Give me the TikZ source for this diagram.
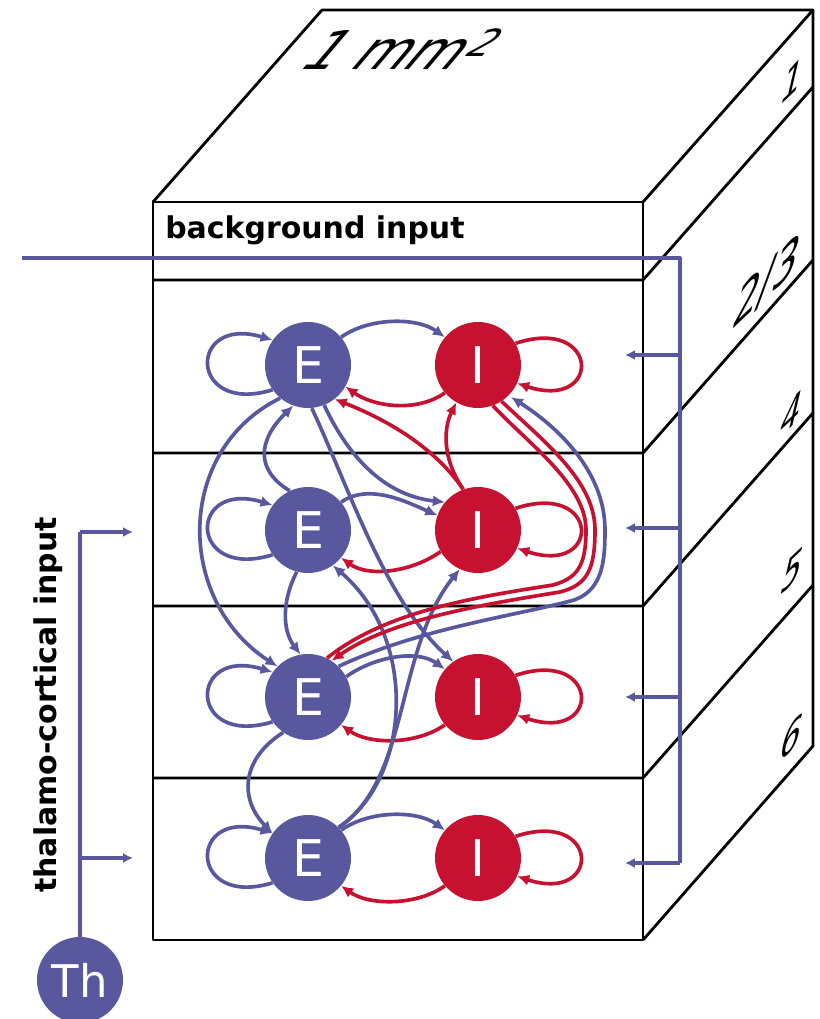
\documentclass[tikz,border=0pt]{standalone}
\usepackage{fontspec}
\setmainfont{DejaVu Sans}
\usetikzlibrary{arrows.meta}
\definecolor{eblue}{RGB}{89,87,158}
\definecolor{ired}{RGB}{199,17,48}
\begin{document}
\begin{tikzpicture}[x=0.025cm,y=-0.025cm,line join=round,
  ecirc/.style={circle,fill=eblue,minimum size=2.15cm,inner sep=0pt,text=white,font=\fontsize{36}{36}\selectfont},
  icirc/.style={circle,fill=ired,minimum size=2.15cm,inner sep=0pt,text=white,font=\fontsize{36}{36}\selectfont},
  bl/.style={draw=eblue,line width=2.6pt},
  rd/.style={draw=ired,line width=2.6pt},
  tip/.style={-{Latex[length=8.5pt,width=8pt]}},
  tiptwo/.style={-{Latex[length=7pt,width=7pt]}},
  inp/.style={draw=eblue,line width=2.8pt},
  boxline/.style={draw=black,line width=2pt},
  sidelab/.style={inner sep=0pt,yslant=0.95,xslant=0.3,xscale=0.85,font=\fontsize{27}{27}\selectfont},
  lab/.style={inner sep=0pt,font=\bfseries\fontsize{21.3}{22}\selectfont}]
\useasboundingbox (0,0) rectangle (820,1019);
% box
\draw[boxline] (153,202) -- (322,10) -- (813,10) -- (643,202);
\draw[boxline] (153,202) rectangle (643,940);
\draw[boxline] (813,10) -- (813,746) -- (643,940);
\foreach \yy in {280,453,606,778}{
  \draw[boxline] (153,\yy) -- (643,\yy) -- (813,{\yy-193});
}
% labels on box
\node[anchor=base west,xslant=0.85,inner sep=0pt,font=\fontsize{38}{38}\selectfont] (mm) at (296,69) {1 mm\textsuperscript{2}};
\node[sidelab] (l1) at (793,80) {1};
\node[sidelab,font=\fontsize{33}{33}\selectfont] (l23) at (767,282) {2/3};
\node[sidelab] (l4) at (792,413) {4};
\node[sidelab] (l5) at (793,570) {5};
\node[sidelab] (l6) at (792,737) {6};
\node[lab,anchor=base west] (bgt) at (165,238) {background input};
\node[lab,rotate=90] (tct) at (48,705) {thalamo-cortical input};
% neurons
\node[ecirc] (E1) at (308,365) {E};
\node[icirc] (I1) at (478,365) {I};
\node[ecirc] (E2) at (308,530) {E};
\node[icirc] (I2) at (478,530) {I};
\node[ecirc] (E3) at (308,697) {E};
\node[icirc] (I3) at (478,697) {I};
\node[ecirc] (E4) at (308,858) {E};
\node[icirc] (I4) at (478,858) {I};
\node[ecirc,minimum size=2.15cm,font=\fontsize{32}{32}\selectfont] (Th) at (80,980) {Th};
% within-layer
\foreach \r in {1,2,3,4}{
  \draw[bl,tip] (E\r.215) .. controls +(-85,26) and +(-85,-26) .. (E\r.145);
  \draw[rd,tip] (I\r.30) .. controls +(85,-28) and +(85,28) .. (I\r.335);
}
\draw[bl,tip] (E1.40) .. controls +(28,-20) and +(-28,-20) .. (I1.140);
\draw[bl,tip] (E2.40) .. controls +(28,-20) and +(-28,-12) .. (I2.160);
\draw[bl,tip] (E3.28) .. controls +(28,-20) and +(-28,-20) .. (I3.140);
\draw[bl,tip] (E4.40) .. controls +(28,-20) and +(-28,-20) .. (I4.140);
\draw[rd,tip] (I1.220) .. controls +(-28,20) and +(28,20) .. (E1.330);
\draw[rd,tip] (I2.210) .. controls +(-28,20) and +(28,20) .. (E2.320);
\draw[rd,tip] (I3.220) .. controls +(-28,20) and +(28,20) .. (E3.320);
\draw[rd,tip] (I4.220) .. controls +(-28,20) and +(28,20) .. (E4.320);
% inter-layer excitatory
\draw[bl,tip] (E1.230) .. controls (175,450) and (175,600) .. (E3.135);
\draw[bl,tip] (E2.115) .. controls (255,470) and (258,440) .. (E1.250);
\draw[bl,tip] (E2.255) .. controls (282,600) and (282,630) .. (E3.100);
\draw[bl,tip] (E3.235) .. controls (240,760) and (240,800) .. (E4.145);
\draw[bl,tip] (E4.45) .. controls (410,780) and (420,640) .. (E2.305);
\draw[bl,tip] (E4.45) .. controls (410,780) and (395,650) .. (I2.245);
\draw[bl,tip] (E1.275) .. controls (350,490) and (385,600) .. (I3.125);
\draw[bl,tip] (E1.292) .. controls (345,450) and (380,495) .. (I2.140);
\draw[bl,tip,shorten >=2pt] (E3.45) .. controls (420,628) and (520,615) .. (574,600)
   .. controls (603,590) and (605,560) .. (605,530)
   .. controls (605,470) and (555,425) .. (I1.315);
% inter-layer inhibitory
\draw[rd,tip] (I2.110) .. controls (440,455) and (400,425) .. (E1.308);
\draw[rd,tip] (I2.110) .. controls (440,455) and (445,425) .. (I1.240);
\draw[rd,tip] (I1.303) .. controls (542,440) and (595,480) .. (595,530)
   .. controls (595,570) and (587,585) .. (560,592)
   .. controls (480,605) and (390,620) .. (E3.57);
\draw[rd] (I1.290) .. controls (530,445) and (586,485) .. (586,530)
   .. controls (586,565) and (578,578) .. (553,585)
   .. controls (470,598) and (385,612) .. (E3.64);
% background input
\coordinate (bgL) at (22,258);
\coordinate (bgR) at (680,258);
\coordinate (bgD) at (680,863);
\draw[inp] (bgL) -- (bgR) -- (bgD);
\foreach \yy/\n in {355/1,528/2,697/3,863/4}{
  \coordinate (bgB\n) at (680,\yy);
  \coordinate (bgT\n) at (625,\yy);
  \draw[inp,tiptwo] (bgB\n) -- (bgT\n);
}
% thalamo-cortical input
\coordinate (thC) at (80,532);
\coordinate (thTa) at (133,532);
\coordinate (thB) at (80,858);
\coordinate (thTb) at (133,858);
\draw[inp] (Th.north) -- (thC);
\draw[inp,tiptwo] (thC) -- (thTa);
\draw[inp,tiptwo] (thB) -- (thTb);
\end{tikzpicture}
\end{document}
